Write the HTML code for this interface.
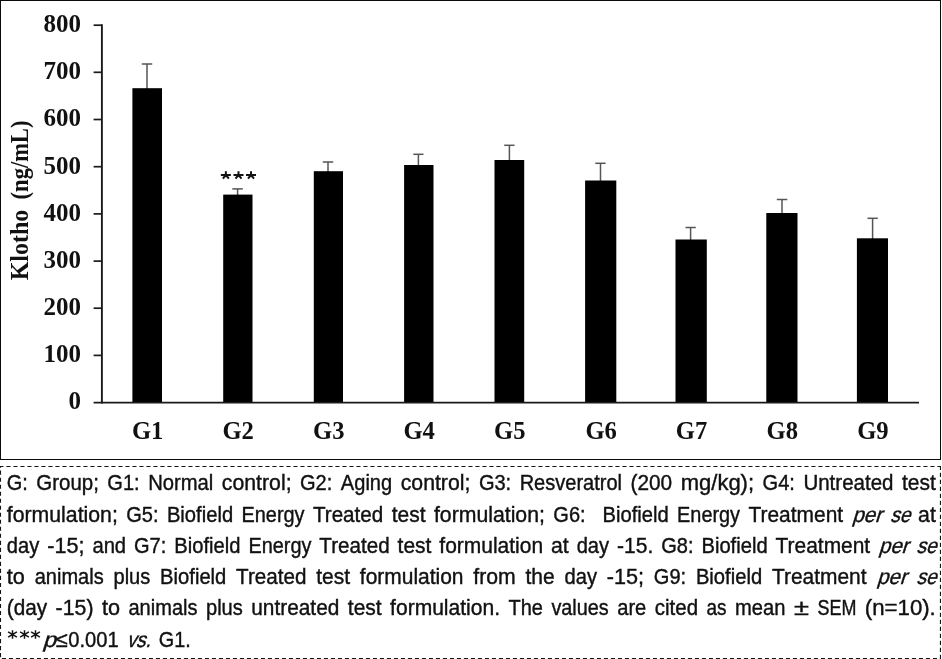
<!DOCTYPE html><html><head><meta charset="utf-8"><style>
html,body{margin:0;padding:0;background:#fff}
body{width:942px;height:659px;position:relative;overflow:hidden;font-family:"Liberation Serif",serif}
.yl{position:absolute;left:29.6px;width:51.5px;text-align:right;font:bold 25px/24px "Liberation Serif",serif;color:#111;height:24px}
.xl{position:absolute;top:419.1px;width:60px;text-align:center;font:bold 24.6px/24px "Liberation Serif",serif;color:#111}
.yt{position:absolute;left:19.5px;width:0;height:0}
.yt span{position:absolute;white-space:pre;font:bold 25px/24px "Liberation Serif",serif;color:#111;transform:translate(-50%,-50%) rotate(-90deg) scaleX(var(--s));display:block}
#wrap{position:absolute;left:0;top:0;width:942px;height:659px;will-change:transform;transform:translateZ(0)}
</style></head><body><div id="wrap">
<svg width="942" height="659" viewBox="0 0 942 659" style="position:absolute;left:0;top:0">
<rect x="0.5" y="0.5" width="940" height="459" fill="#fff" stroke="#0a0a0a" stroke-width="1"/>
<path d="M-0.6 466.5H941" fill="none" stroke="#151515" stroke-width="1.15" stroke-dasharray="4.1 2.9"/>
<path d="M-5.1 658.45H941" fill="none" stroke="#151515" stroke-width="1.15" stroke-dasharray="4.1 2.9"/>
<path d="M0.5 466V659" fill="none" stroke="#151515" stroke-width="1.1" stroke-dasharray="4.1 2.917" stroke-dashoffset="2.4"/>
<path d="M940.45 466V659" fill="none" stroke="#151515" stroke-width="1.1" stroke-dasharray="4.1 2.9" stroke-dashoffset="0.2"/>
<line x1="147.0" y1="64.0" x2="147.0" y2="89.2" stroke="#555" stroke-width="1.5"/>
<line x1="141.8" y1="64.0" x2="152.2" y2="64.0" stroke="#555" stroke-width="1.5"/>
<line x1="237.6" y1="188.9" x2="237.6" y2="195.6" stroke="#555" stroke-width="1.5"/>
<line x1="232.3" y1="188.9" x2="242.8" y2="188.9" stroke="#555" stroke-width="1.5"/>
<line x1="328.0" y1="162.0" x2="328.0" y2="172.2" stroke="#555" stroke-width="1.5"/>
<line x1="322.8" y1="162.0" x2="333.2" y2="162.0" stroke="#555" stroke-width="1.5"/>
<line x1="418.4" y1="154.3" x2="418.4" y2="166.0" stroke="#555" stroke-width="1.5"/>
<line x1="413.3" y1="154.3" x2="423.5" y2="154.3" stroke="#555" stroke-width="1.5"/>
<line x1="509.4" y1="145.3" x2="509.4" y2="161.0" stroke="#555" stroke-width="1.5"/>
<line x1="504.2" y1="145.3" x2="514.5" y2="145.3" stroke="#555" stroke-width="1.5"/>
<line x1="600.5" y1="163.3" x2="600.5" y2="181.5" stroke="#555" stroke-width="1.5"/>
<line x1="595.3" y1="163.3" x2="605.6" y2="163.3" stroke="#555" stroke-width="1.5"/>
<line x1="690.6" y1="227.5" x2="690.6" y2="240.5" stroke="#555" stroke-width="1.5"/>
<line x1="685.5" y1="227.5" x2="695.8" y2="227.5" stroke="#555" stroke-width="1.5"/>
<line x1="782.0" y1="199.5" x2="782.0" y2="214.0" stroke="#555" stroke-width="1.5"/>
<line x1="776.8" y1="199.5" x2="787.3" y2="199.5" stroke="#555" stroke-width="1.5"/>
<line x1="872.6" y1="218.3" x2="872.6" y2="239.3" stroke="#555" stroke-width="1.5"/>
<line x1="867.5" y1="218.3" x2="877.8" y2="218.3" stroke="#555" stroke-width="1.5"/>
<rect x="132.4" y="88.2" width="29.6" height="314.4" fill="#000"/>
<rect x="223.2" y="194.6" width="29.3" height="208.0" fill="#000"/>
<rect x="313.8" y="171.2" width="29.2" height="231.4" fill="#000"/>
<rect x="404.1" y="165.0" width="29.4" height="237.6" fill="#000"/>
<rect x="494.5" y="160.0" width="29.7" height="242.6" fill="#000"/>
<rect x="585.1" y="180.5" width="31.2" height="222.1" fill="#000"/>
<rect x="675.5" y="239.5" width="31.3" height="163.1" fill="#000"/>
<rect x="766.3" y="213.0" width="31.2" height="189.6" fill="#000"/>
<rect x="856.9" y="238.3" width="31.1" height="164.3" fill="#000"/>
<line x1="101.9" y1="24.3" x2="101.9" y2="403.4" stroke="#1a1a1a" stroke-width="1.9"/>
<line x1="93.6" y1="402.6" x2="919" y2="402.6" stroke="#1a1a1a" stroke-width="1.7"/>
<line x1="93.6" y1="355.4" x2="102" y2="355.4" stroke="#1a1a1a" stroke-width="1.7"/>
<line x1="93.6" y1="308.2" x2="102" y2="308.2" stroke="#1a1a1a" stroke-width="1.7"/>
<line x1="93.6" y1="261.1" x2="102" y2="261.1" stroke="#1a1a1a" stroke-width="1.7"/>
<line x1="93.6" y1="213.9" x2="102" y2="213.9" stroke="#1a1a1a" stroke-width="1.7"/>
<line x1="93.6" y1="166.7" x2="102" y2="166.7" stroke="#1a1a1a" stroke-width="1.7"/>
<line x1="93.6" y1="119.5" x2="102" y2="119.5" stroke="#1a1a1a" stroke-width="1.7"/>
<line x1="93.6" y1="72.3" x2="102" y2="72.3" stroke="#1a1a1a" stroke-width="1.7"/>
<line x1="93.6" y1="25.2" x2="102" y2="25.2" stroke="#1a1a1a" stroke-width="1.7"/>
<path d="M225.85 171.2V175.2M220.85 174.9H230.85M225.85 175.0L222.85 178.6M225.85 175.0L228.85 178.6" stroke="#141414" stroke-width="2" fill="none"/>
<path d="M224.25 174H227.45L227.05 176.6H224.65Z" fill="#141414"/>
<path d="M238.5 171.2V175.2M233.50 174.9H243.50M238.5 175.0L235.50 178.6M238.5 175.0L241.50 178.6" stroke="#141414" stroke-width="2" fill="none"/>
<path d="M236.90 174H240.10L239.70 176.6H237.30Z" fill="#141414"/>
<path d="M251.0 171.2V175.2M246.00 174.9H256.00M251.0 175.0L248.00 178.6M251.0 175.0L254.00 178.6" stroke="#141414" stroke-width="2" fill="none"/>
<path d="M249.40 174H252.60L252.20 176.6H249.80Z" fill="#141414"/>
</svg>
<div class="yl" style="top:389.4px">0</div>
<div class="yl" style="top:342.2px">100</div>
<div class="yl" style="top:295.0px">200</div>
<div class="yl" style="top:247.9px">300</div>
<div class="yl" style="top:200.7px">400</div>
<div class="yl" style="top:153.5px">500</div>
<div class="yl" style="top:106.3px">600</div>
<div class="yl" style="top:59.1px">700</div>
<div class="yl" style="top:12.0px">800</div>
<div class="xl" style="left:117.6px">G1</div>
<div class="xl" style="left:208.2px">G2</div>
<div class="xl" style="left:298.8px">G3</div>
<div class="xl" style="left:389.2px">G4</div>
<div class="xl" style="left:479.8px">G5</div>
<div class="xl" style="left:571.1px">G6</div>
<div class="xl" style="left:661.5px">G7</div>
<div class="xl" style="left:752.3px">G8</div>
<div class="xl" style="left:842.9px">G9</div>
<div class="yt" style="top:245px;--s:0.96"><span>Klotho</span></div>
<div class="yt" style="top:160px;--s:0.90"><span>(ng/mL)</span></div>
<svg width="942" height="659" viewBox="0 0 942 659" style="position:absolute;left:0;top:0"><path d="M12.5 630.3V638.8M8.1 631.9L16.9 637.2M8.1 637.2L16.9 631.9" stroke="#151515" stroke-width="1.5" fill="none"/><path d="M24.5 630.3V638.8M20.1 631.9L28.9 637.2M20.1 637.2L28.9 631.9" stroke="#151515" stroke-width="1.5" fill="none"/><path d="M35.5 630.3V638.8M31.1 631.9L39.9 637.2M31.1 637.2L39.9 631.9" stroke="#151515" stroke-width="1.5" fill="none"/><text transform="translate(42.5,646.6) skewX(-17) translate(-42.5,-646.6)" x="42.5" y="646.6" textLength="13.1" lengthAdjust="spacingAndGlyphs" style="font:21.6px 'Liberation Sans',sans-serif;" fill="#111" stroke="#111" stroke-width="0.4">p</text><text x="55.8" y="646.6" textLength="12.0" lengthAdjust="spacingAndGlyphs" style="font:21.6px 'Liberation Sans',sans-serif;" fill="#111" stroke="#111" stroke-width="0.4">≤</text><text x="68.2" y="646.6" textLength="50.4" lengthAdjust="spacingAndGlyphs" style="font:21.6px 'Liberation Sans',sans-serif;" fill="#111" stroke="#111" stroke-width="0.4">0.001</text><text transform="translate(126.4,646.6) skewX(-17) translate(-126.4,-646.6)" x="126.4" y="646.6" textLength="24.2" lengthAdjust="spacingAndGlyphs" style="font:21.6px 'Liberation Sans',sans-serif;" fill="#111" stroke="#111" stroke-width="0.4">vs.</text><text x="158.8" y="646.6" textLength="32.0" lengthAdjust="spacingAndGlyphs" style="font:21.6px 'Liberation Sans',sans-serif;" fill="#111" stroke="#111" stroke-width="0.4">G1.</text><text x="6.80" y="490.3" textLength="21.02" lengthAdjust="spacingAndGlyphs" style="font:21.6px 'Liberation Sans',sans-serif;" fill="#111" stroke="#111" stroke-width="0.4">G:</text><text x="36.35" y="490.3" textLength="62.50" lengthAdjust="spacingAndGlyphs" style="font:21.6px 'Liberation Sans',sans-serif;" fill="#111" stroke="#111" stroke-width="0.4">Group;</text><text x="107.37" y="490.3" textLength="32.27" lengthAdjust="spacingAndGlyphs" style="font:21.6px 'Liberation Sans',sans-serif;" fill="#111" stroke="#111" stroke-width="0.4">G1:</text><text x="148.16" y="490.3" textLength="65.18" lengthAdjust="spacingAndGlyphs" style="font:21.6px 'Liberation Sans',sans-serif;" fill="#111" stroke="#111" stroke-width="0.4">Normal</text><text x="221.87" y="490.3" textLength="69.67" lengthAdjust="spacingAndGlyphs" style="font:21.6px 'Liberation Sans',sans-serif;" fill="#111" stroke="#111" stroke-width="0.4">control;</text><text x="300.06" y="490.3" textLength="32.27" lengthAdjust="spacingAndGlyphs" style="font:21.6px 'Liberation Sans',sans-serif;" fill="#111" stroke="#111" stroke-width="0.4">G2:</text><text x="340.85" y="490.3" textLength="51.32" lengthAdjust="spacingAndGlyphs" style="font:21.6px 'Liberation Sans',sans-serif;" fill="#111" stroke="#111" stroke-width="0.4">Aging</text><text x="400.69" y="490.3" textLength="69.67" lengthAdjust="spacingAndGlyphs" style="font:21.6px 'Liberation Sans',sans-serif;" fill="#111" stroke="#111" stroke-width="0.4">control;</text><text x="478.88" y="490.3" textLength="32.27" lengthAdjust="spacingAndGlyphs" style="font:21.6px 'Liberation Sans',sans-serif;" fill="#111" stroke="#111" stroke-width="0.4">G3:</text><text x="519.67" y="490.3" textLength="102.38" lengthAdjust="spacingAndGlyphs" style="font:21.6px 'Liberation Sans',sans-serif;" fill="#111" stroke="#111" stroke-width="0.4">Resveratrol</text><text x="630.57" y="490.3" textLength="41.62" lengthAdjust="spacingAndGlyphs" style="font:21.6px 'Liberation Sans',sans-serif;" fill="#111" stroke="#111" stroke-width="0.4">(200</text><text x="680.71" y="490.3" textLength="73.37" lengthAdjust="spacingAndGlyphs" style="font:21.6px 'Liberation Sans',sans-serif;" fill="#111" stroke="#111" stroke-width="0.4">mg/kg);</text><text x="762.60" y="490.3" textLength="32.27" lengthAdjust="spacingAndGlyphs" style="font:21.6px 'Liberation Sans',sans-serif;" fill="#111" stroke="#111" stroke-width="0.4">G4:</text><text x="803.40" y="490.3" textLength="90.06" lengthAdjust="spacingAndGlyphs" style="font:21.6px 'Liberation Sans',sans-serif;" fill="#111" stroke="#111" stroke-width="0.4">Untreated</text><text x="901.98" y="490.3" textLength="33.82" lengthAdjust="spacingAndGlyphs" style="font:21.6px 'Liberation Sans',sans-serif;" fill="#111" stroke="#111" stroke-width="0.4">test</text><text x="6.80" y="521.6" textLength="110.99" lengthAdjust="spacingAndGlyphs" style="font:21.6px 'Liberation Sans',sans-serif;" fill="#111" stroke="#111" stroke-width="0.4">formulation;</text><text x="126.22" y="521.6" textLength="32.27" lengthAdjust="spacingAndGlyphs" style="font:21.6px 'Liberation Sans',sans-serif;" fill="#111" stroke="#111" stroke-width="0.4">G5:</text><text x="166.92" y="521.6" textLength="66.21" lengthAdjust="spacingAndGlyphs" style="font:21.6px 'Liberation Sans',sans-serif;" fill="#111" stroke="#111" stroke-width="0.4">Biofield</text><text x="241.56" y="521.6" textLength="62.95" lengthAdjust="spacingAndGlyphs" style="font:21.6px 'Liberation Sans',sans-serif;" fill="#111" stroke="#111" stroke-width="0.4">Energy</text><text x="312.94" y="521.6" textLength="70.31" lengthAdjust="spacingAndGlyphs" style="font:21.6px 'Liberation Sans',sans-serif;" fill="#111" stroke="#111" stroke-width="0.4">Treated</text><text x="391.68" y="521.6" textLength="33.82" lengthAdjust="spacingAndGlyphs" style="font:21.6px 'Liberation Sans',sans-serif;" fill="#111" stroke="#111" stroke-width="0.4">test</text><text x="433.93" y="521.6" textLength="110.99" lengthAdjust="spacingAndGlyphs" style="font:21.6px 'Liberation Sans',sans-serif;" fill="#111" stroke="#111" stroke-width="0.4">formulation;</text><text x="553.35" y="521.6" textLength="32.27" lengthAdjust="spacingAndGlyphs" style="font:21.6px 'Liberation Sans',sans-serif;" fill="#111" stroke="#111" stroke-width="0.4">G6:</text><text x="602.48" y="521.6" textLength="66.21" lengthAdjust="spacingAndGlyphs" style="font:21.6px 'Liberation Sans',sans-serif;" fill="#111" stroke="#111" stroke-width="0.4">Biofield</text><text x="677.12" y="521.6" textLength="62.95" lengthAdjust="spacingAndGlyphs" style="font:21.6px 'Liberation Sans',sans-serif;" fill="#111" stroke="#111" stroke-width="0.4">Energy</text><text x="748.50" y="521.6" textLength="94.59" lengthAdjust="spacingAndGlyphs" style="font:21.6px 'Liberation Sans',sans-serif;" fill="#111" stroke="#111" stroke-width="0.4">Treatment</text><text transform="translate(851.92,521.6) skewX(-17) translate(-851.92,-521.6)" x="851.92" y="521.6" textLength="29.65" lengthAdjust="spacingAndGlyphs" style="font:21.6px 'Liberation Sans',sans-serif;" fill="#111" stroke="#111" stroke-width="0.4">per</text><text transform="translate(890.01,521.6) skewX(-17) translate(-890.01,-521.6)" x="890.01" y="521.6" textLength="20.06" lengthAdjust="spacingAndGlyphs" style="font:21.6px 'Liberation Sans',sans-serif;" fill="#111" stroke="#111" stroke-width="0.4">se</text><text x="918.10" y="521.6" textLength="17.70" lengthAdjust="spacingAndGlyphs" style="font:21.6px 'Liberation Sans',sans-serif;" fill="#111" stroke="#111" stroke-width="0.4">at</text><text x="6.80" y="552.8" textLength="32.45" lengthAdjust="spacingAndGlyphs" style="font:21.6px 'Liberation Sans',sans-serif;" fill="#111" stroke="#111" stroke-width="0.4">day</text><text x="47.20" y="552.8" textLength="37.26" lengthAdjust="spacingAndGlyphs" style="font:21.6px 'Liberation Sans',sans-serif;" fill="#111" stroke="#111" stroke-width="0.4">-15;</text><text x="92.41" y="552.8" textLength="33.70" lengthAdjust="spacingAndGlyphs" style="font:21.6px 'Liberation Sans',sans-serif;" fill="#111" stroke="#111" stroke-width="0.4">and</text><text x="134.05" y="552.8" textLength="32.27" lengthAdjust="spacingAndGlyphs" style="font:21.6px 'Liberation Sans',sans-serif;" fill="#111" stroke="#111" stroke-width="0.4">G7:</text><text x="174.27" y="552.8" textLength="66.21" lengthAdjust="spacingAndGlyphs" style="font:21.6px 'Liberation Sans',sans-serif;" fill="#111" stroke="#111" stroke-width="0.4">Biofield</text><text x="248.43" y="552.8" textLength="62.95" lengthAdjust="spacingAndGlyphs" style="font:21.6px 'Liberation Sans',sans-serif;" fill="#111" stroke="#111" stroke-width="0.4">Energy</text><text x="319.33" y="552.8" textLength="70.31" lengthAdjust="spacingAndGlyphs" style="font:21.6px 'Liberation Sans',sans-serif;" fill="#111" stroke="#111" stroke-width="0.4">Treated</text><text x="397.59" y="552.8" textLength="33.82" lengthAdjust="spacingAndGlyphs" style="font:21.6px 'Liberation Sans',sans-serif;" fill="#111" stroke="#111" stroke-width="0.4">test</text><text x="439.35" y="552.8" textLength="103.70" lengthAdjust="spacingAndGlyphs" style="font:21.6px 'Liberation Sans',sans-serif;" fill="#111" stroke="#111" stroke-width="0.4">formulation</text><text x="551.01" y="552.8" textLength="17.70" lengthAdjust="spacingAndGlyphs" style="font:21.6px 'Liberation Sans',sans-serif;" fill="#111" stroke="#111" stroke-width="0.4">at</text><text x="576.66" y="552.8" textLength="32.45" lengthAdjust="spacingAndGlyphs" style="font:21.6px 'Liberation Sans',sans-serif;" fill="#111" stroke="#111" stroke-width="0.4">day</text><text x="617.06" y="552.8" textLength="36.21" lengthAdjust="spacingAndGlyphs" style="font:21.6px 'Liberation Sans',sans-serif;" fill="#111" stroke="#111" stroke-width="0.4">-15.</text><text x="661.22" y="552.8" textLength="32.27" lengthAdjust="spacingAndGlyphs" style="font:21.6px 'Liberation Sans',sans-serif;" fill="#111" stroke="#111" stroke-width="0.4">G8:</text><text x="701.44" y="552.8" textLength="66.21" lengthAdjust="spacingAndGlyphs" style="font:21.6px 'Liberation Sans',sans-serif;" fill="#111" stroke="#111" stroke-width="0.4">Biofield</text><text x="775.60" y="552.8" textLength="94.59" lengthAdjust="spacingAndGlyphs" style="font:21.6px 'Liberation Sans',sans-serif;" fill="#111" stroke="#111" stroke-width="0.4">Treatment</text><text transform="translate(878.54,552.8) skewX(-17) translate(-878.54,-552.8)" x="878.54" y="552.8" textLength="29.65" lengthAdjust="spacingAndGlyphs" style="font:21.6px 'Liberation Sans',sans-serif;" fill="#111" stroke="#111" stroke-width="0.4">per</text><text transform="translate(916.14,552.8) skewX(-17) translate(-916.14,-552.8)" x="916.14" y="552.8" textLength="20.06" lengthAdjust="spacingAndGlyphs" style="font:21.6px 'Liberation Sans',sans-serif;" fill="#111" stroke="#111" stroke-width="0.4">se</text><text x="6.80" y="584.1" textLength="18.07" lengthAdjust="spacingAndGlyphs" style="font:21.6px 'Liberation Sans',sans-serif;" fill="#111" stroke="#111" stroke-width="0.4">to</text><text x="34.66" y="584.1" textLength="69.06" lengthAdjust="spacingAndGlyphs" style="font:21.6px 'Liberation Sans',sans-serif;" fill="#111" stroke="#111" stroke-width="0.4">animals</text><text x="113.52" y="584.1" textLength="36.79" lengthAdjust="spacingAndGlyphs" style="font:21.6px 'Liberation Sans',sans-serif;" fill="#111" stroke="#111" stroke-width="0.4">plus</text><text x="160.11" y="584.1" textLength="66.21" lengthAdjust="spacingAndGlyphs" style="font:21.6px 'Liberation Sans',sans-serif;" fill="#111" stroke="#111" stroke-width="0.4">Biofield</text><text x="236.11" y="584.1" textLength="70.31" lengthAdjust="spacingAndGlyphs" style="font:21.6px 'Liberation Sans',sans-serif;" fill="#111" stroke="#111" stroke-width="0.4">Treated</text><text x="316.21" y="584.1" textLength="33.82" lengthAdjust="spacingAndGlyphs" style="font:21.6px 'Liberation Sans',sans-serif;" fill="#111" stroke="#111" stroke-width="0.4">test</text><text x="359.82" y="584.1" textLength="103.70" lengthAdjust="spacingAndGlyphs" style="font:21.6px 'Liberation Sans',sans-serif;" fill="#111" stroke="#111" stroke-width="0.4">formulation</text><text x="473.32" y="584.1" textLength="42.43" lengthAdjust="spacingAndGlyphs" style="font:21.6px 'Liberation Sans',sans-serif;" fill="#111" stroke="#111" stroke-width="0.4">from</text><text x="525.54" y="584.1" textLength="29.21" lengthAdjust="spacingAndGlyphs" style="font:21.6px 'Liberation Sans',sans-serif;" fill="#111" stroke="#111" stroke-width="0.4">the</text><text x="564.55" y="584.1" textLength="32.45" lengthAdjust="spacingAndGlyphs" style="font:21.6px 'Liberation Sans',sans-serif;" fill="#111" stroke="#111" stroke-width="0.4">day</text><text x="606.79" y="584.1" textLength="37.26" lengthAdjust="spacingAndGlyphs" style="font:21.6px 'Liberation Sans',sans-serif;" fill="#111" stroke="#111" stroke-width="0.4">-15;</text><text x="653.85" y="584.1" textLength="32.27" lengthAdjust="spacingAndGlyphs" style="font:21.6px 'Liberation Sans',sans-serif;" fill="#111" stroke="#111" stroke-width="0.4">G9:</text><text x="695.91" y="584.1" textLength="66.21" lengthAdjust="spacingAndGlyphs" style="font:21.6px 'Liberation Sans',sans-serif;" fill="#111" stroke="#111" stroke-width="0.4">Biofield</text><text x="771.91" y="584.1" textLength="94.59" lengthAdjust="spacingAndGlyphs" style="font:21.6px 'Liberation Sans',sans-serif;" fill="#111" stroke="#111" stroke-width="0.4">Treatment</text><text transform="translate(876.70,584.1) skewX(-17) translate(-876.70,-584.1)" x="876.70" y="584.1" textLength="29.65" lengthAdjust="spacingAndGlyphs" style="font:21.6px 'Liberation Sans',sans-serif;" fill="#111" stroke="#111" stroke-width="0.4">per</text><text transform="translate(916.14,584.1) skewX(-17) translate(-916.14,-584.1)" x="916.14" y="584.1" textLength="20.06" lengthAdjust="spacingAndGlyphs" style="font:21.6px 'Liberation Sans',sans-serif;" fill="#111" stroke="#111" stroke-width="0.4">se</text><text x="6.80" y="615.4" textLength="40.33" lengthAdjust="spacingAndGlyphs" style="font:21.6px 'Liberation Sans',sans-serif;" fill="#111" stroke="#111" stroke-width="0.4">(day</text><text x="55.61" y="615.4" textLength="37.86" lengthAdjust="spacingAndGlyphs" style="font:21.6px 'Liberation Sans',sans-serif;" fill="#111" stroke="#111" stroke-width="0.4">-15)</text><text x="101.94" y="615.4" textLength="18.07" lengthAdjust="spacingAndGlyphs" style="font:21.6px 'Liberation Sans',sans-serif;" fill="#111" stroke="#111" stroke-width="0.4">to</text><text x="128.47" y="615.4" textLength="69.06" lengthAdjust="spacingAndGlyphs" style="font:21.6px 'Liberation Sans',sans-serif;" fill="#111" stroke="#111" stroke-width="0.4">animals</text><text x="206.01" y="615.4" textLength="36.79" lengthAdjust="spacingAndGlyphs" style="font:21.6px 'Liberation Sans',sans-serif;" fill="#111" stroke="#111" stroke-width="0.4">plus</text><text x="251.27" y="615.4" textLength="88.05" lengthAdjust="spacingAndGlyphs" style="font:21.6px 'Liberation Sans',sans-serif;" fill="#111" stroke="#111" stroke-width="0.4">untreated</text><text x="347.80" y="615.4" textLength="33.82" lengthAdjust="spacingAndGlyphs" style="font:21.6px 'Liberation Sans',sans-serif;" fill="#111" stroke="#111" stroke-width="0.4">test</text><text x="390.09" y="615.4" textLength="109.94" lengthAdjust="spacingAndGlyphs" style="font:21.6px 'Liberation Sans',sans-serif;" fill="#111" stroke="#111" stroke-width="0.4">formulation.</text><text x="508.50" y="615.4" textLength="34.44" lengthAdjust="spacingAndGlyphs" style="font:21.6px 'Liberation Sans',sans-serif;" fill="#111" stroke="#111" stroke-width="0.4">The</text><text x="551.41" y="615.4" textLength="57.31" lengthAdjust="spacingAndGlyphs" style="font:21.6px 'Liberation Sans',sans-serif;" fill="#111" stroke="#111" stroke-width="0.4">values</text><text x="617.19" y="615.4" textLength="29.09" lengthAdjust="spacingAndGlyphs" style="font:21.6px 'Liberation Sans',sans-serif;" fill="#111" stroke="#111" stroke-width="0.4">are</text><text x="654.75" y="615.4" textLength="43.33" lengthAdjust="spacingAndGlyphs" style="font:21.6px 'Liberation Sans',sans-serif;" fill="#111" stroke="#111" stroke-width="0.4">cited</text><text x="706.56" y="615.4" textLength="20.04" lengthAdjust="spacingAndGlyphs" style="font:21.6px 'Liberation Sans',sans-serif;" fill="#111" stroke="#111" stroke-width="0.4">as</text><text x="735.07" y="615.4" textLength="50.45" lengthAdjust="spacingAndGlyphs" style="font:21.6px 'Liberation Sans',sans-serif;" fill="#111" stroke="#111" stroke-width="0.4">mean</text><text x="793.99" y="615.4" textLength="14.99" lengthAdjust="spacingAndGlyphs" style="font:21.6px 'Liberation Sans',sans-serif;" fill="#111" stroke="#111" stroke-width="0.4">±</text><text x="817.45" y="615.4" textLength="38.91" lengthAdjust="spacingAndGlyphs" style="font:21.6px 'Liberation Sans',sans-serif;" fill="#111" stroke="#111" stroke-width="0.4">SEM</text><text x="864.83" y="615.4" textLength="70.97" lengthAdjust="spacingAndGlyphs" style="font:21.6px 'Liberation Sans',sans-serif;" fill="#111" stroke="#111" stroke-width="0.4">(n=10).</text></svg>
</div></body></html>
